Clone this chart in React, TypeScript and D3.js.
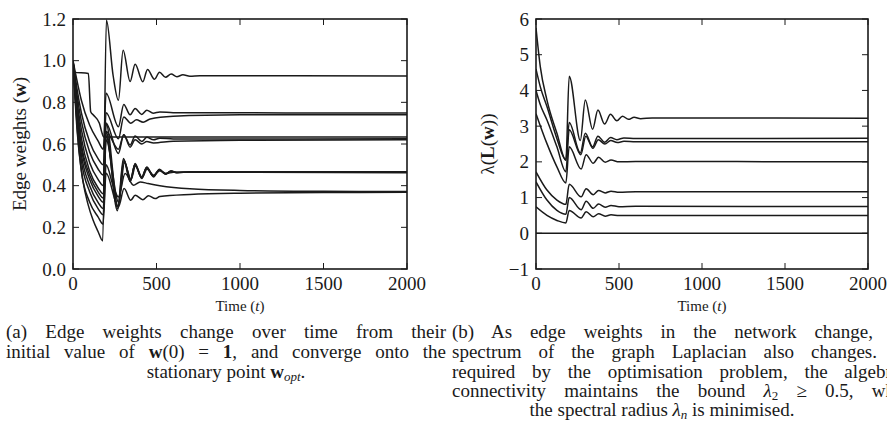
import React, { useLayoutEffect, useRef } from "react";
import * as d3 from "d3";

type P = [number, number];

const timeTicks = [0, 500, 1000, 1500, 2000];
const weightTicks = [0, 0.2, 0.4, 0.6, 0.8, 1.0, 1.2];
const eigTicks = [-1, 0, 1, 2, 3, 4, 5, 6];

// Edge weights w(t)
const wA: P[] = [[0,1.0],[15,0.8],[35,0.58],[60,0.42],[90,0.31],[120,0.235],[150,0.18],[178,0.135],[200,1.195],[240,0.93],[272,0.81],[300,1.05],[342,0.9],[372,0.983],[418,0.899],[446,0.958],[488,0.911],[518,0.944],[554,0.92],[588,0.936],[622,0.923],[658,0.932],[700,0.925],[760,0.928],[2000,0.927]];
const wB: P[] = [[0,1.0],[6,0.945],[92,0.938],[106,0.755],[122,0.739],[158,0.70],[172,0.658],[184,0.634],[2000,0.634]];
const wC: P[] = [[0,1],[25,0.9],[50,0.81],[100,0.69],[150,0.615],[182,0.575],[198,0.843],[272,0.683],[304,0.79],[342,0.74],[372,0.77],[412,0.742],[442,0.762],[480,0.748],[520,0.754],[600,0.75],[2000,0.749]];
const wD: P[] = [[0,1],[25,0.86],[50,0.75],[100,0.61],[150,0.53],[182,0.5],[198,0.75],[272,0.625],[304,0.73],[346,0.70],[380,0.716],[420,0.705],[462,0.72],[600,0.733],[1000,0.74],[2000,0.741]];
const wE: P[] = [[0,1],[25,0.83],[50,0.71],[100,0.56],[150,0.48],[182,0.45],[198,0.70],[272,0.555],[304,0.645],[342,0.585],[372,0.62],[412,0.6],[442,0.612],[482,0.605],[600,0.613],[1000,0.618],[2000,0.62]];
const wF: P[] = [[0,1],[25,0.8],[50,0.67],[100,0.51],[150,0.43],[182,0.40],[198,0.66],[272,0.575],[304,0.645],[342,0.595],[372,0.638],[412,0.612],[442,0.632],[482,0.62],[520,0.628],[600,0.624],[2000,0.625]];
const wG: P[] = [[0,1],[25,0.78],[50,0.63],[100,0.47],[150,0.39],[182,0.36],[198,0.70],[270,0.3],[306,0.52],[346,0.426],[372,0.506],[412,0.434],[442,0.49],[482,0.442],[518,0.479],[554,0.455],[588,0.47],[622,0.462],[700,0.466],[2000,0.466]];
const wH: P[] = [[0,1],[25,0.74],[50,0.58],[100,0.43],[150,0.35],[182,0.32],[198,0.66],[266,0.28],[302,0.53],[342,0.42],[370,0.5],[410,0.44],[440,0.485],[480,0.447],[516,0.475],[552,0.457],[586,0.469],[620,0.463],[700,0.465],[2000,0.465]];
const wI: P[] = [[0,1],[25,0.72],[50,0.55],[100,0.4],[150,0.32],[182,0.29],[198,0.62],[274,0.32],[308,0.51],[348,0.43],[374,0.495],[414,0.44],[444,0.48],[484,0.45],[520,0.472],[560,0.458],[600,0.465],[2000,0.462]];
const wJ: P[] = [[0,1],[25,0.7],[50,0.52],[100,0.37],[150,0.29],[182,0.26],[198,0.5],[240,0.4],[272,0.346],[312,0.458],[362,0.402],[402,0.418],[450,0.41],[520,0.4],[700,0.385],[1000,0.377],[1500,0.373],[2000,0.372]];
const wK: P[] = [[0,1],[25,0.66],[50,0.47],[100,0.32],[150,0.25],[180,0.215],[198,0.46],[272,0.298],[306,0.386],[346,0.33],[372,0.354],[418,0.333],[452,0.352],[492,0.338],[520,0.348],[700,0.358],[1000,0.364],[1500,0.367],[2000,0.368]];
const wL: P[] = [[0,1],[25,0.76],[50,0.6],[100,0.45],[150,0.37],[182,0.34],[198,0.64],[268,0.29],[304,0.525],[344,0.425],[371,0.503],[411,0.437],[441,0.487],[481,0.445],[517,0.477],[553,0.456],[587,0.47],[621,0.463],[700,0.467],[2000,0.467]];
const weightSeries = [wA, wB, wC, wD, wE, wF, wG, wH, wI, wJ, wK, wL];

// Laplacian spectrum λ(L(w))
const e1: P[] = [[0,0],[2000,0]];
const e2: P[] = [[0,0.74],[66,0.5],[126,0.36],[180,0.29],[200,0.64],[272,0.43],[302,0.6],[345,0.46],[377,0.55],[417,0.48],[452,0.52],[500,0.495],[600,0.5],[2000,0.5]];
const e3: P[] = [[0,1.44],[66,0.93],[126,0.64],[180,0.53],[200,1.0],[272,0.66],[302,0.9],[345,0.7],[377,0.82],[417,0.73],[452,0.78],[500,0.745],[600,0.755],[2000,0.75]];
const e4: P[] = [[0,1.72],[66,1.21],[126,0.93],[180,0.81],[200,1.37],[272,1.02],[302,1.25],[345,1.08],[377,1.2],[417,1.13],[452,1.18],[500,1.15],[600,1.16],[2000,1.16]];
const e5: P[] = [[0,3.35],[66,2.51],[126,1.86],[180,1.41],[200,2.42],[272,1.8],[302,2.2],[345,1.96],[377,2.13],[417,1.99],[452,2.05],[500,2.0],[600,2.01],[2000,2.0]];
const e6: P[] = [[0,4.0],[26,3.6],[66,3.17],[126,2.42],[180,1.72],[200,2.9],[270,2.2],[300,2.72],[343,2.38],[375,2.62],[415,2.5],[450,2.6],[490,2.54],[530,2.575],[600,2.56],[2000,2.56]];
const e7: P[] = [[0,4.6],[26,4.1],[66,3.55],[126,2.65],[180,2.05],[200,3.1],[267,2.25],[297,2.8],[341,2.42],[373,2.72],[413,2.55],[449,2.68],[487,2.62],[530,2.67],[600,2.655],[2000,2.66]];
const e8: P[] = [[0,5.75],[26,4.66],[66,3.73],[126,2.8],[180,2.05],[200,4.4],[267,2.6],[297,3.73],[341,2.91],[373,3.45],[413,3.06],[449,3.33],[487,3.15],[521,3.28],[557,3.19],[591,3.25],[630,3.21],[700,3.23],[2000,3.22]];
const eigSeries = [e1, e2, e3, e4, e5, e6, e7, e8];

const FONT = "'Liberation Serif', 'DejaVu Serif', serif";
const INK = "#1a1a1a";
const CAP = 19;

function Panel(props: {
  left: number; right: number; top: number; bottom: number;
  yDomain: [number, number]; yTicks: number[]; yFmt: (v: number) => string;
  series: P[][]; yLabel: React.ReactNode; yLabelX: number;
}) {
  const { left, right, top, bottom, yDomain, yTicks, yFmt, series, yLabel, yLabelX } = props;
  const x = d3.scaleLinear().domain([0, 2000]).range([left, right]);
  const y = d3.scaleLinear().domain(yDomain).range([bottom, top]);
  const line = d3.line<P>().x(d => x(d[0])).y(d => y(d[1])).curve(d3.curveMonotoneX);
  const tl = 6;
  return (
    <g>
      <defs>
        <clipPath id={`clip${left}`}>
          <rect x={left} y={top - 1} width={right - left} height={bottom - top + 2} />
        </clipPath>
      </defs>
      <g clipPath={`url(#clip${left})`}>
        {series.map((s, i) => (
          <path key={i} d={line(s) || ""} fill="none" stroke={INK} strokeWidth={1.5} strokeLinejoin="round" />
        ))}
      </g>
      {timeTicks.map(t => (
        <g key={"xt" + t}>
          <line x1={x(t)} x2={x(t)} y1={bottom} y2={bottom - tl} stroke={INK} strokeWidth={1} />
          <line x1={x(t)} x2={x(t)} y1={top} y2={top + tl} stroke={INK} strokeWidth={1} />
          <text x={x(t)} y={bottom + 21} textAnchor="middle" fontSize={19} fontFamily={FONT} fill={INK}>{t}</text>
        </g>
      ))}
      {yTicks.map(v => (
        <g key={"yt" + v}>
          <line x1={left} x2={left + tl} y1={y(v)} y2={y(v)} stroke={INK} strokeWidth={1} />
          <line x1={right} x2={right - tl} y1={y(v)} y2={y(v)} stroke={INK} strokeWidth={1} />
          <text x={left - 7} y={y(v) + 6.5} textAnchor="end" fontSize={19} fontFamily={FONT} fill={INK}>{yFmt(v)}</text>
        </g>
      ))}
      <rect x={left} y={top} width={right - left} height={bottom - top} fill="none" stroke={INK} strokeWidth={1.6} />
      <text x={(left + right) / 2} y={bottom + 42} textAnchor="middle" fontSize={15} fontFamily={FONT} fill={INK}>
        Time (<tspan fontStyle="italic">t</tspan>)
      </text>
      <text transform={`translate(${yLabelX},${(top + bottom) / 2}) rotate(-90)`} textAnchor="middle" fontSize={19} fontFamily={FONT} fill={INK}>
        {yLabel}
      </text>
    </g>
  );
}

function JLine(props: { x: number; y: number; width: number; children: React.ReactNode }) {
  const ref = useRef<SVGTextElement>(null);
  useLayoutEffect(() => {
    const el = ref.current;
    if (!el) return;
    el.style.wordSpacing = "0px";
    const len = el.getComputedTextLength();
    const spaces = (el.textContent || "").split(" ").length - 1;
    if (spaces > 0) el.style.wordSpacing = `${Math.max(0, (props.width - len) / spaces)}px`;
  });
  return (
    <text ref={ref} x={props.x} y={props.y} fontSize={CAP} fontFamily={FONT} fill={INK} style={{ whiteSpace: "pre" }}>
      {props.children}
    </text>
  );
}

function CText(props: { x: number; y: number; children: React.ReactNode }) {
  return (
    <text x={props.x} y={props.y} textAnchor="middle" fontSize={CAP} fontFamily={FONT} fill={INK} style={{ whiteSpace: "pre" }}>
      {props.children}
    </text>
  );
}

export default function App() {
  const L = [6, 446];
  const rx = 452;
  const rw = 462;
  const ys = [338, 358, 378, 397, 416];
  return (
    <svg width={887} height={448} style={{ display: "block", position: "absolute", left: 0, top: 0, background: "#fff" }}>
      <rect width={887} height={448} fill="#fff" />
      <Panel left={73} right={407} top={19} bottom={269} yDomain={[0, 1.2]} yTicks={weightTicks}
        yFmt={v => v.toFixed(1)} series={weightSeries} yLabelX={26}
        yLabel={<>Edge weights (<tspan fontWeight="bold">w</tspan>)</>} />
      <Panel left={536} right={868} top={19} bottom={269} yDomain={[-1, 6]} yTicks={eigTicks}
        yFmt={v => (v < 0 ? "\u2212" + Math.abs(v) : String(v))} series={eigSeries} yLabelX={494}
        yLabel={<><tspan>λ(</tspan><tspan fontWeight="bold">L</tspan><tspan>(</tspan><tspan fontWeight="bold">w</tspan><tspan>))</tspan></>} />

      <JLine x={L[0]} y={ys[0]} width={L[1] - L[0]}>(a) Edge weights change over time from their</JLine>
      <JLine x={L[0]} y={ys[1]} width={L[1] - L[0]}>
        {"initial value of "}<tspan fontWeight="bold">w</tspan>{"(0) = "}<tspan fontWeight="bold">1</tspan>{", and converge onto the"}
      </JLine>
      <CText x={(L[0] + L[1]) / 2} y={ys[2]}>
        {"stationary point "}<tspan fontWeight="bold">w</tspan><tspan dy={3} fontSize={13} fontStyle="italic">opt</tspan><tspan dy={-3}>.</tspan>
      </CText>

      <JLine x={rx} y={ys[0]} width={rw}>(b) As edge weights in the network change, the</JLine>
      <JLine x={rx} y={ys[1]} width={rw}>spectrum of the graph Laplacian also changes. As</JLine>
      <JLine x={rx} y={ys[2]} width={rw}>required by the optimisation problem, the algebraic</JLine>
      <JLine x={rx} y={ys[3]} width={rw}>
        {"connectivity maintains the bound "}<tspan fontStyle="italic">λ</tspan><tspan dy={3} fontSize={13}>2</tspan><tspan dy={-3}>{" ≥ 0.5, while"}</tspan>
      </JLine>
      <CText x={662} y={ys[4]}>
        {"the spectral radius "}<tspan fontStyle="italic">λ</tspan><tspan dy={3} fontSize={13} fontStyle="italic">n</tspan><tspan dy={-3}>{" is minimised."}</tspan>
      </CText>
    </svg>
  );
}
